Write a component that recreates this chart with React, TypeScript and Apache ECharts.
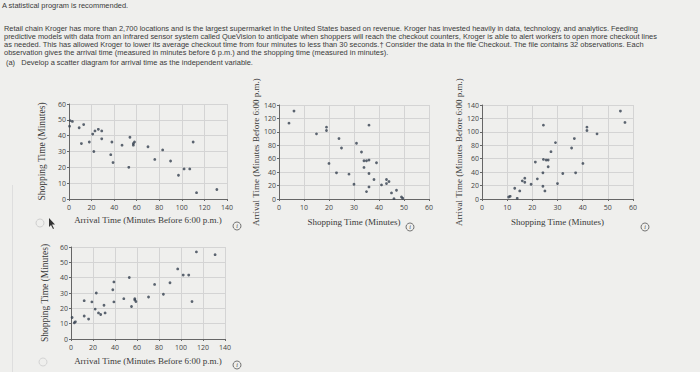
import React, { useEffect, useRef } from "react";
import * as echarts from "echarts";

// Dataset shown in plots 1 and 2 (arrival time, shopping time)
const arrivalA = [113, 131, 97, 107, 102, 53, 39, 90, 76, 37, 22, 83, 70, 47, 57, 57, 58, 110, 11, 38, 18, 29, 54, 21, 29, 26, 23, 9, 0.5, 13, 1, 3];
const shoppingA = [4, 6, 15, 19, 19, 20, 23, 24, 25, 28, 30, 31, 33, 34, 34, 35, 36, 36, 35, 36, 36, 38, 39, 41, 43, 44, 43, 45, 46, 47, 49.5, 49];

// Dataset shown in plots 3 and 4 (arrival time, shopping time)
const arrivalB = [1, 3, 4, 12, 16, 12, 19, 22, 23, 25, 27, 31, 30, 38, 39, 39, 48, 53, 55, 59, 58, 58, 70.5, 76, 84, 90, 97, 102, 107, 110, 114, 131];
const shoppingB = [14, 10.6, 11.2, 15, 13, 25, 24.2, 19.5, 30, 17, 16, 17, 22, 32.1, 37.2, 24.2, 26.3, 40.1, 21.2, 24.4, 25.5, 26.3, 27.4, 35.6, 29.2, 36.7, 45.7, 41.7, 41.7, 24.4, 56.8, 55];

const arrivalTicks = [0, 20, 40, 60, 80, 100, 120, 140];
const shoppingTicks = [0, 10, 20, 30, 40, 50, 60];

const arrivalName = "Arrival Time (Minutes Before 6:00 p.m.)";
const shoppingName = "Shopping Time (Minutes)";

const introLine = "A statistical program is recommended.";
const paragraphLines = [
  "Retail chain Kroger has more than 2,700 locations and is the largest supermarket in the United States based on revenue. Kroger has invested heavily in data, technology, and analytics. Feeding",
  "predictive models with data from an infrared sensor system called QueVision to anticipate when shoppers will reach the checkout counters, Kroger is able to alert workers to open more checkout lines",
  "as needed. This has allowed Kroger to lower its average checkout time from four minutes to less than 30 seconds.\u2020 Consider the data in the file Checkout. The file contains 32 observations. Each",
  "observation gives the arrival time (measured in minutes before 6 p.m.) and the shopping time (measured in minutes).",
];
const partA = "(a)   Develop a scatter diagram for arrival time as the independent variable.";

const BG = "#efefed";
const TEXT = "#3a3a3a";
const DOT = "#34404f";

function pairs(xs: number[], ys: number[]) {
  return xs.map((x, i) => [x, ys[i]]);
}

function makeAxis(ticks: number[], name: string, gridIndex: number, gap: number, isY: boolean, nameSize: number) {
  const step = ticks[1] - ticks[0];
  return {
    type: "value",
    gridIndex,
    min: ticks[0],
    max: ticks[ticks.length - 1],
    interval: step,
    name,
    nameLocation: "middle",
    nameGap: gap,
    nameTextStyle: { fontFamily: "Liberation Serif", fontSize: nameSize, color: TEXT },
    axisLine: { show: true, lineStyle: { color: "#666", width: 1 } },
    axisTick: { show: true, length: 2, lineStyle: { color: "#666" } },
    axisLabel: { fontFamily: "Open Sans", fontSize: 7, color: "#444", margin: isY ? 3 : 5 },
    splitLine: { show: true, lineStyle: { color: "#d4d4d4", width: 1 } },
  };
}

function infoIcon(x: number, y: number) {
  return {
    type: "group",
    x,
    y,
    children: [
      { type: "circle", shape: { cx: 0, cy: 0, r: 4 }, style: { fill: "none", stroke: "#555", lineWidth: 0.8 } },
      { type: "text", x: 0, y: 0.3, style: { text: "i", fontSize: 6, fontFamily: "Liberation Serif", fontStyle: "italic", fill: "#444", align: "center", verticalAlign: "middle" } },
    ],
  };
}

export default function App() {
  const ref = useRef<HTMLDivElement>(null);
  useEffect(() => {
    if (!ref.current) return;
    const chart = echarts.init(ref.current, undefined, { renderer: "svg" });
    const grids = [
      { left: 69, top: 104, width: 158, height: 95 },
      { left: 279, top: 105, width: 150, height: 94 },
      { left: 482, top: 105, width: 151, height: 94 },
      { left: 71, top: 247, width: 154, height: 92 },
    ];
    const FS = 6.8;
    const SX = 1.095;
    const lineYs = [29.5, 37.4, 45.3, 53.2];
    const textStyle = { fontFamily: "Liberation Sans", fontSize: FS, fill: TEXT, verticalAlign: "middle", lineHeight: 7.6 };
    const textEls: any[] = [
      { type: "text", x: 2, y: 6, scaleX: SX, style: { ...textStyle, text: introLine } },
      ...paragraphLines.map((t, i) => ({ type: "text", x: 4, y: lineYs[i], scaleX: SX, style: { ...textStyle, text: t } })),
      { type: "text", x: 6, y: 63, scaleX: SX, style: { ...textStyle, text: partA } },
      infoIcon(237, 226),
      infoIcon(410, 227),
      infoIcon(645, 227),
      infoIcon(237, 365),
      { type: "circle", shape: { cx: 40, cy: 223, r: 4 }, style: { fill: "none", stroke: "#cfcfcf", lineWidth: 1 } },
      { type: "circle", shape: { cx: 43, cy: 362, r: 4 }, style: { fill: "none", stroke: "#d4d4d4", lineWidth: 1 } },
      { type: "polygon", shape: { points: [[49, 218], [49, 227], [51, 225], [53, 229], [54, 228.5], [52, 224.5], [55, 224.5]] }, style: { fill: "#333" } },
      { type: "line", shape: { x1: 12.5, y1: 185, x2: 12.5, y2: 372 }, style: { stroke: "#dedede", lineWidth: 1 } },
    ];
    chart.setOption({
      animation: false,
      backgroundColor: BG,
      grid: grids,
      xAxis: [
        makeAxis(arrivalTicks, arrivalName, 0, 16, false, 9),
        makeAxis(shoppingTicks, shoppingName, 1, 18, false, 9),
        makeAxis(shoppingTicks, shoppingName, 2, 18, false, 9),
        makeAxis(arrivalTicks, arrivalName, 3, 17, false, 9),
      ],
      yAxis: [
        makeAxis(shoppingTicks, shoppingName, 0, 22, true, 9.5),
        makeAxis(arrivalTicks, arrivalName, 1, 16, true, 9),
        makeAxis(arrivalTicks, arrivalName, 2, 16, true, 9),
        makeAxis(shoppingTicks, shoppingName, 3, 21, true, 9.5),
      ],
      series: [
        { type: "scatter", xAxisIndex: 0, yAxisIndex: 0, data: pairs(arrivalA, shoppingA) },
        { type: "scatter", xAxisIndex: 1, yAxisIndex: 1, data: pairs(shoppingA, arrivalA) },
        { type: "scatter", xAxisIndex: 2, yAxisIndex: 2, data: pairs(shoppingB, arrivalB) },
        { type: "scatter", xAxisIndex: 3, yAxisIndex: 3, data: pairs(arrivalB, shoppingB) },
      ].map((s) => ({ ...s, symbolSize: 2.8, itemStyle: { color: DOT }, silent: true })),
      graphic: textEls,
    });
    return () => chart.dispose();
  }, []);
  return <div ref={ref} style={{ position: "fixed", left: 0, top: 0, width: 700, height: 372 }} />;
}
